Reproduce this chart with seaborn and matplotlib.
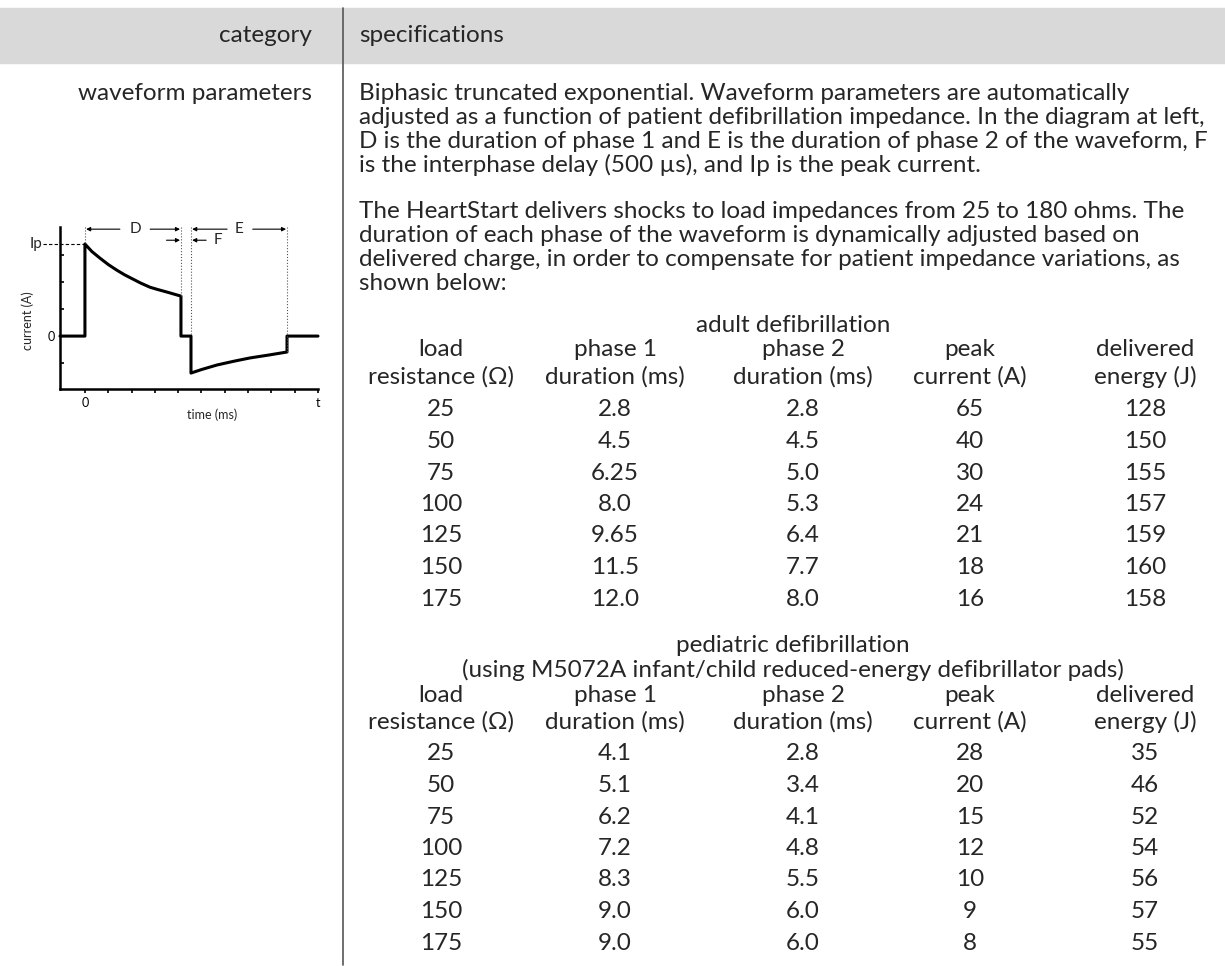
import matplotlib
matplotlib.use("Agg")
import matplotlib.pyplot as plt
from matplotlib.patches import Rectangle
import seaborn as sns
import pandas as pd

# Dane tabeli
load_resistance = [25, 50, 75, 100, 125, 150, 175]
adult_phase1 = ["2.8", "4.5", "6.25", "8.0", "9.65", "11.5", "12.0"]
adult_phase2 = ["2.8", "4.5", "5.0", "5.3", "6.4", "7.7", "8.0"]
adult_peak = [65, 40, 30, 24, 21, 18, 16]
adult_energy = [128, 150, 155, 157, 159, 160, 158]
ped_phase1 = ["4.1", "5.1", "6.2", "7.2", "8.3", "9.0", "9.0"]
ped_phase2 = ["2.8", "3.4", "4.1", "4.8", "5.5", "6.0", "6.0"]
ped_peak = [28, 20, 15, 12, 10, 9, 8]
ped_energy = [35, 46, 52, 54, 56, 57, 55]

head_top = ["load", "phase 1", "phase 2", "peak", "delivered"]
head_bottom = ["resistance (\u03a9)", "duration (ms)", "duration (ms)", "current (A)", "energy (J)"]

para1 = [
    "Biphasic truncated exponential. Waveform parameters are automatically",
    "adjusted as a function of patient defibrillation impedance. In the diagram at left,",
    "D is the duration of phase 1 and E is the duration of phase 2 of the waveform, F",
    "is the interphase delay (500 \u00b5s), and Ip is the peak current.",
]
para2 = [
    "The HeartStart delivers shocks to load impedances from 25 to 180 ohms. The",
    "duration of each phase of the waveform is dynamically adjusted based on",
    "delivered charge, in order to compensate for patient impedance variations, as",
    "shown below:",
]

# Schemat przebiegu (odczytane punkty)
wave_t = [-1.07, 0, 0, 0.3, 0.64, 1.0, 1.37, 1.7, 2.06, 2.4, 2.79, 3.1, 3.52, 3.8, 4.12,
          4.12, 4.55, 4.55, 5.0, 5.67, 6.4, 7.08, 7.9, 8.67, 8.67, 10.0]
wave_v = [0, 0, 3.41, 3.13, 2.89, 2.65, 2.44, 2.27, 2.11, 1.96, 1.81, 1.73, 1.63, 1.56, 1.48,
          0, 0, -1.37, -1.24, -1.07, -0.93, -0.81, -0.70, -0.59, 0, 0]

sns.set_theme(style="white")
plt.rcParams["font.family"] = ["Lato", "DejaVu Sans"]

W, H = 1225, 966
fig = plt.figure(figsize=(W / 100, H / 100), dpi=100)
ax = fig.add_axes([0, 0, 1, 1])
ax.set_xlim(0, W)
ax.set_ylim(H, 0)
ax.axis("off")

# Nagłówek
ax.add_patch(Rectangle((0, 8), W, 55, color="#d9d9d9", zorder=0))
ax.plot([343, 343], [8, 965], color="#555555", lw=1.2)
fs = 17.5
ax.text(312, 36, "category", ha="right", va="center", fontsize=fs)
ax.text(359, 36, "specifications", ha="left", va="center", fontsize=fs)
ax.text(312, 93, "waveform parameters", ha="right", va="center", fontsize=fs)

for i, line in enumerate(para1):
    ax.text(359, 93 + i * 24, line, ha="left", va="center", fontsize=fs)
for i, line in enumerate(para2):
    ax.text(359, 211 + i * 24, line, ha="left", va="center", fontsize=fs)

# Tabele
col_x = [441, 615, 803, 970, 1145]


def draw_table(y_title, titles, y_row0, cols):
    df = pd.DataFrame(dict(zip(range(5), cols)))
    for k, t in enumerate(titles):
        ax.text(793, y_title + k * 25, t, ha="center", va="center", fontsize=fs)
    y_h = y_title + len(titles) * 25
    for c in range(5):
        ax.text(col_x[c], y_h, head_top[c], ha="center", va="center", fontsize=fs)
        ax.text(col_x[c], y_h + 27, head_bottom[c], ha="center", va="center", fontsize=fs)
    for r in range(len(df)):
        for c in range(5):
            ax.text(col_x[c], y_row0 + r * 31.5, str(df.iloc[r, c]),
                    ha="center", va="center", fontsize=fs)


draw_table(325, ["adult defibrillation"], 410,
           [load_resistance, adult_phase1, adult_phase2, adult_peak, adult_energy])
draw_table(645, ["pediatric defibrillation",
                 "(using M5072A infant/child reduced-energy defibrillator pads)"], 754,
           [load_resistance, ped_phase1, ped_phase2, ped_peak, ped_energy])

# Wykres przebiegu
x0, x1, y0, y1 = 60, 318, 227, 389
wx = fig.add_axes([x0 / W, (H - y1) / H, (x1 - x0) / W, (y1 - y0) / H])
wx.set_xlim(-1.07, 10.0)
wx.set_ylim(-1.96, 4.04)
wx.patch.set_alpha(0)
sns.lineplot(x=wave_t, y=wave_v, sort=False, estimator=None, color="black",
             lw=2.2, ax=wx, clip_on=False)
for s in ["top", "right"]:
    wx.spines[s].set_visible(False)
for s in ["left", "bottom"]:
    wx.spines[s].set_color("black")
    wx.spines[s].set_linewidth(1.8)
wx.set_xticks(range(11))
wx.set_xticklabels(["0"] + [""] * 9 + ["t"], fontsize=9)
wx.set_yticks([-1, 0, 1, 2, 3])
wx.set_yticklabels(["", "0", "", "", ""], fontsize=9)
wx.tick_params(axis="x", direction="out", length=3, width=1.2, pad=3, colors="black",
               bottom=True)
wx.tick_params(axis="y", direction="in", length=3, width=1.2, pad=4, colors="black",
               left=True)
wx.set_xlabel("")
wx.set_ylabel("")
wx.text(5.45, -2.93, "time (ms)", ha="center", va="center", fontsize=9)
wx.text(-2.45, 0.59, "current (A)", ha="center", va="center", fontsize=9, rotation=90)

# Linie pomocnicze i strzałki
dot = dict(color="#555555", lw=0.8, ls=":", clip_on=False)
wx.plot([0, 0], [4.04, 3.41], **dot)
wx.plot([4.12, 4.12], [4.04, 1.48], **dot)
wx.plot([4.55, 4.55], [4.04, 0], **dot)
wx.plot([8.67, 8.67], [4.04, -0.59], **dot)
wx.plot([-1.8, 0], [3.41, 3.41], color="black", lw=0.8, ls=(0, (3, 2)), clip_on=False)
wx.text(-2.1, 3.41, "Ip", ha="center", va="center", fontsize=11)

arr = dict(arrowstyle="-|>", lw=0.8, color="black", mutation_scale=6, shrinkA=0, shrinkB=0)
ya, yf = 3.96, 3.55
wx.annotate("", xy=(0.05, ya), xytext=(1.5, ya), arrowprops=arr, annotation_clip=False)
wx.annotate("", xy=(4.08, ya), xytext=(2.8, ya), arrowprops=arr, annotation_clip=False)
wx.text(2.15, ya, "D", ha="center", va="center", fontsize=11)
wx.annotate("", xy=(4.6, ya), xytext=(6.1, ya), arrowprops=arr, annotation_clip=False)
wx.annotate("", xy=(8.63, ya), xytext=(7.2, ya), arrowprops=arr, annotation_clip=False)
wx.text(6.6, ya, "E", ha="center", va="center", fontsize=11)
wx.annotate("", xy=(4.08, yf), xytext=(3.5, yf), arrowprops=arr, annotation_clip=False)
wx.annotate("", xy=(4.6, yf), xytext=(5.2, yf), arrowprops=arr, annotation_clip=False)
wx.text(5.7, yf, "F", ha="center", va="center", fontsize=11)

fig.savefig("out.png", dpi=100)
